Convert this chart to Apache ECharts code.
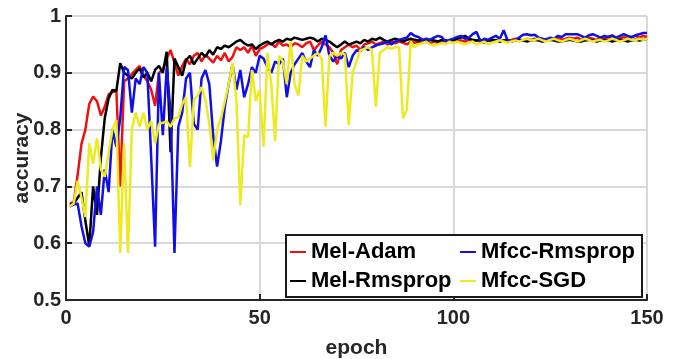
<!DOCTYPE html>
<html>
<head>
<meta charset="utf-8">
<script src="https://cdn.jsdelivr.net/npm/echarts@6/dist/echarts.min.js"></script>
<style>
  html, body { margin: 0; padding: 0; background: #fff; }
  #chart { width: 680px; height: 359px; }
</style>
</head>
<body>
<div id="chart"></div>
<script>
// accuracy per epoch (1..150)
const melAdam = [
  0.670, 0.672, 0.720, 0.775, 0.800, 0.845, 0.858, 0.850, 0.825, 0.840,
  0.862, 0.866, 0.870, 0.700, 0.885, 0.890, 0.898, 0.905, 0.912, 0.895,
  0.885, 0.870, 0.842, 0.900, 0.905, 0.925, 0.940, 0.918, 0.895, 0.912,
  0.925, 0.915, 0.930, 0.935, 0.920, 0.932, 0.925, 0.918, 0.930, 0.922,
  0.935, 0.920, 0.928, 0.945, 0.940, 0.945, 0.935, 0.948, 0.930, 0.942,
  0.945, 0.950, 0.952, 0.945, 0.955, 0.948, 0.950, 0.945, 0.952, 0.950,
  0.945, 0.952, 0.955, 0.940, 0.948, 0.955, 0.950, 0.945, 0.935, 0.915,
  0.940, 0.945, 0.950, 0.945, 0.948, 0.940, 0.950, 0.952, 0.955, 0.950,
  0.952, 0.955, 0.950, 0.955, 0.952, 0.955, 0.953, 0.950, 0.955, 0.953,
  0.955, 0.953, 0.955, 0.952, 0.955, 0.953, 0.955, 0.957, 0.955, 0.958,
  0.955, 0.957, 0.955, 0.958, 0.955, 0.957, 0.955, 0.953, 0.957, 0.955,
  0.958, 0.955, 0.957, 0.955, 0.958, 0.960, 0.958, 0.957, 0.960, 0.958,
  0.960, 0.958, 0.955, 0.960, 0.958, 0.960, 0.962, 0.958, 0.960, 0.962,
  0.960, 0.962, 0.958, 0.960, 0.962, 0.960, 0.958, 0.962, 0.960, 0.963,
  0.960, 0.962, 0.960, 0.963, 0.960, 0.962, 0.965, 0.962, 0.965, 0.963
];
const melRmsprop = [
  0.668, 0.670, 0.680, 0.690, 0.640, 0.595, 0.700, 0.650, 0.750, 0.820,
  0.855, 0.870, 0.868, 0.917, 0.900, 0.895, 0.890, 0.900, 0.908, 0.892,
  0.900, 0.885, 0.905, 0.912, 0.900, 0.937, 0.760, 0.925, 0.910, 0.895,
  0.922, 0.930, 0.915, 0.925, 0.935, 0.928, 0.940, 0.932, 0.945, 0.942,
  0.948, 0.945, 0.950, 0.955, 0.958, 0.952, 0.948, 0.950, 0.942, 0.948,
  0.952, 0.955, 0.950, 0.955, 0.958, 0.955, 0.960, 0.958, 0.962, 0.960,
  0.958, 0.960, 0.962, 0.960, 0.955, 0.960, 0.958, 0.955, 0.950, 0.945,
  0.950, 0.955, 0.950, 0.952, 0.955, 0.952, 0.958, 0.955, 0.960, 0.958,
  0.962, 0.958, 0.955, 0.958, 0.960, 0.958, 0.955, 0.958, 0.960, 0.958,
  0.957, 0.958, 0.955, 0.958, 0.957, 0.955, 0.958, 0.957, 0.955, 0.958,
  0.960, 0.962, 0.965, 0.960, 0.958, 0.957, 0.958, 0.955, 0.957, 0.958,
  0.957, 0.955, 0.957, 0.958, 0.955, 0.957, 0.958, 0.957, 0.955, 0.957,
  0.958, 0.957, 0.955, 0.957, 0.958, 0.957, 0.955, 0.955, 0.957, 0.958,
  0.957, 0.955, 0.955, 0.957, 0.958, 0.957, 0.955, 0.957, 0.958, 0.957,
  0.955, 0.957, 0.958, 0.957, 0.955, 0.957, 0.958, 0.957, 0.958, 0.960
];
const mfccRmsprop = [
  0.665, 0.668, 0.670, 0.630, 0.600, 0.594, 0.620, 0.700, 0.650, 0.730,
  0.690, 0.800, 0.770, 0.820, 0.910, 0.905, 0.830, 0.890, 0.880, 0.910,
  0.900, 0.750, 0.594, 0.900, 0.790, 0.910, 0.830, 0.583, 0.805, 0.830,
  0.890, 0.900, 0.810, 0.800, 0.890, 0.905, 0.880, 0.790, 0.735, 0.780,
  0.840, 0.880, 0.915, 0.870, 0.905, 0.857, 0.880, 0.910, 0.900, 0.930,
  0.925, 0.910, 0.900, 0.920, 0.915, 0.925, 0.857, 0.900, 0.915, 0.925,
  0.935, 0.920, 0.910, 0.940, 0.930, 0.945, 0.966, 0.930, 0.920, 0.930,
  0.925, 0.935, 0.910, 0.930, 0.940, 0.938, 0.945, 0.940, 0.945, 0.948,
  0.950, 0.952, 0.955, 0.950, 0.955, 0.958, 0.960, 0.962, 0.970, 0.965,
  0.963, 0.958, 0.960, 0.958, 0.962, 0.965, 0.963, 0.955, 0.958, 0.960,
  0.963, 0.965, 0.960, 0.962, 0.968, 0.972, 0.955, 0.960, 0.958, 0.962,
  0.965, 0.960, 0.975, 0.957, 0.955, 0.958, 0.962, 0.967, 0.968, 0.966,
  0.967, 0.962, 0.960, 0.958, 0.962, 0.960, 0.965, 0.963, 0.968, 0.968,
  0.968, 0.968, 0.965, 0.962, 0.966, 0.968, 0.965, 0.962, 0.965, 0.963,
  0.966, 0.962, 0.965, 0.968, 0.965, 0.963, 0.966, 0.968, 0.970, 0.970
];
const mfccSgd = [
  0.665, 0.670, 0.710, 0.680, 0.646, 0.776, 0.740, 0.785, 0.730, 0.717,
  0.760, 0.800, 0.817, 0.583, 0.776, 0.583, 0.800, 0.830, 0.805, 0.830,
  0.800, 0.815, 0.776, 0.810, 0.812, 0.815, 0.805, 0.820, 0.822, 0.845,
  0.857, 0.734, 0.852, 0.860, 0.875, 0.852, 0.810, 0.746, 0.800, 0.820,
  0.850, 0.880, 0.917, 0.850, 0.667, 0.790, 0.787, 0.905, 0.850, 0.870,
  0.770, 0.935, 0.880, 0.780, 0.930, 0.920, 0.880, 0.955, 0.880, 0.860,
  0.930, 0.920, 0.925, 0.930, 0.935, 0.925, 0.805, 0.930, 0.935, 0.930,
  0.935, 0.932, 0.808, 0.900, 0.920, 0.940, 0.942, 0.945, 0.940, 0.840,
  0.935, 0.940, 0.945, 0.942, 0.945, 0.945, 0.820, 0.835, 0.955, 0.945,
  0.950, 0.952, 0.955, 0.950, 0.948, 0.950, 0.952, 0.950, 0.955, 0.952,
  0.955, 0.952, 0.950, 0.953, 0.955, 0.950, 0.952, 0.955, 0.950, 0.953,
  0.955, 0.957, 0.955, 0.953, 0.955, 0.957, 0.955, 0.958, 0.960, 0.957,
  0.958, 0.960, 0.957, 0.955, 0.958, 0.960, 0.957, 0.955, 0.958, 0.960,
  0.958, 0.955, 0.957, 0.960, 0.958, 0.955, 0.957, 0.958, 0.955, 0.957,
  0.960, 0.958, 0.955, 0.957, 0.960, 0.958, 0.957, 0.960, 0.958, 0.960
];

const seriesNames = ["Mel-Adam", "Mel-Rmsprop", "Mfcc-Rmsprop", "Mfcc-SGD"];
const seriesColors = ["#ee1111", "#000000", "#1010e6", "#eeea22"];
const seriesValues = [melAdam, melRmsprop, mfccRmsprop, mfccSgd];

const font = "'Liberation Sans', Arial, sans-serif";
const axisColor = "#262626";
const gridColor = "#d9d9d9";

let myChart = echarts.init(document.getElementById("chart"), null, { renderer: "canvas" });

let option = {
  animation: false,
  backgroundColor: "#fff",
  grid: { left: 66, right: 33, top: 16, bottom: 59, containLabel: false, outerBoundsMode: "none" },
  xAxis: {
    type: "value",
    min: 0,
    max: 150,
    interval: 50,
    name: "epoch",
    nameLocation: "middle",
    nameGap: 38,
    nameMoveOverlap: false,
    nameTextStyle: { fontFamily: font, fontWeight: "bold", fontSize: 21, color: axisColor },
    axisLine: { show: true, lineStyle: { color: axisColor, width: 2 } },
    axisTick: { show: true, inside: true, length: 6, lineStyle: { color: axisColor, width: 2 } },
    axisLabel: { fontFamily: font, fontWeight: "bold", fontSize: 20, color: axisColor, margin: 8 },
    splitLine: { show: true, lineStyle: { color: gridColor, width: 2 } }
  },
  yAxis: {
    type: "value",
    min: 0.5,
    max: 1,
    interval: 0.1,
    name: "accuracy",
    nameLocation: "middle",
    nameGap: 33,
    nameMoveOverlap: false,
    nameTextStyle: { fontFamily: font, fontWeight: "bold", fontSize: 21, color: axisColor },
    axisLine: { show: true, lineStyle: { color: axisColor, width: 2 } },
    axisTick: { show: true, inside: true, length: 6, lineStyle: { color: axisColor, width: 2 } },
    axisLabel: {
      fontFamily: font, fontWeight: "bold", fontSize: 20, color: axisColor, margin: 5,
      formatter: (v) => (Math.abs(v - 1) < 1e-9 ? "1" : v.toFixed(1))
    },
    splitLine: { show: true, lineStyle: { color: gridColor, width: 2 } }
  },
  legend: [
    {
      data: [seriesNames[0], seriesNames[1]],
      orient: "vertical",
      left: 290,
      top: 241,
      itemWidth: 16,
      itemHeight: 2,
      itemGap: 7,
      padding: 0,
      icon: "rect",
      textStyle: { fontFamily: font, fontWeight: "bold", fontSize: 22, color: "#000" },
      z: 6
    },
    {
      data: [seriesNames[2], seriesNames[3]],
      orient: "vertical",
      left: 460,
      top: 241,
      itemWidth: 16,
      itemHeight: 2,
      itemGap: 7,
      padding: 0,
      icon: "rect",
      textStyle: { fontFamily: font, fontWeight: "bold", fontSize: 22, color: "#000" },
      z: 6
    }
  ],
  graphic: [
    {
      type: "rect",
      z: 5,
      shape: { x: 286, y: 235, width: 356, height: 62 },
      style: { fill: "#fff", stroke: "#1a1a1a", lineWidth: 2 }
    }
  ],
  series: seriesNames.map((name, idx) => {
    return {
      name: name,
      type: "line",
      showSymbol: false,
      symbol: "none",
      color: seriesColors[idx],
      lineStyle: { width: 2.5, color: seriesColors[idx] },
      z: 2 + idx * 0.1,
      data: seriesValues[idx].map((v, i) => [i + 1, v])
    };
  })
};

myChart.setOption(option);
</script>
</body>
</html>
